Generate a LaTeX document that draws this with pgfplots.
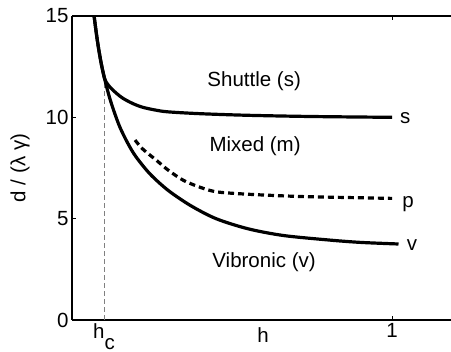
\documentclass[border=0pt]{standalone}
\usepackage{fontspec}
\setmainfont{Liberation Sans}
\usepackage{pgfplots}
\pgfplotsset{compat=1.18}
\begin{document}
\begin{tikzpicture}
\begin{axis}[
  name=ax,
  scale only axis,
  width=379pt, height=304pt,
  xmin=0, xmax=1.184, ymin=0, ymax=15,
  axis x line*=box, axis y line*=left,
  axis line style={-, line width=1.2pt},
  xtick={1}, xticklabels={1},
  extra x ticks={0.1}, extra x tick labels={h\raisebox{-0.55em}{c}},
  extra x tick style={major tick length=0pt},
  ytick={0,5,10,15},
  tick align=inside, major tick length=4pt,
  tick style={black, line width=0.8pt},
  /pgf/number format/assume math mode=true,
  font=\fontsize{20.5}{23}\selectfont,
  ticklabel style={font=\fontsize{20.5}{23}\selectfont},
  xlabel={h},
  xlabel style={at={(axis description cs:0.504,0)}, anchor=base, yshift=-23pt},
  ylabel={d / (λ γ)},
  ylabel style={at={(axis description cs:-0.137,0.5)}, anchor=center},
  clip=false,
]
% vertical dashed line at h_c
\addplot[gray, line width=1pt, dash pattern=on 5pt off 3pt] coordinates {(0.1,0) (0.1,12.0)};
% v curve
\addplot[black, line width=3.2pt, smooth] coordinates {
(0.069,15) (0.076,14.15) (0.083,13.4) (0.092,12.6) (0.102,11.9) (0.115,11.1) (0.13,10.35) (0.15,9.5) (0.175,8.7) (0.2,8.05) (0.244,7.2) (0.3,6.4) (0.37,5.65) (0.45,5.0) (0.55,4.5) (0.66,4.17) (0.8,3.95) (0.9,3.83) (1.02,3.75)};
% s curve
\addplot[black, line width=3.2pt, smooth] coordinates {
(0.069,15) (0.076,14.15) (0.083,13.4) (0.092,12.6) (0.102,11.9) (0.112,11.62) (0.123,11.42) (0.14,11.17) (0.16,10.93) (0.19,10.68) (0.22,10.5) (0.26,10.36) (0.3,10.27) (0.4,10.18) (0.55,10.1) (0.75,10.04) (1.0,10.0)};
% p curve
\addplot[black, line width=3.2pt, smooth, dash pattern=on 6pt off 4pt] coordinates {
(0.197,8.88) (0.22,8.45) (0.266,7.85) (0.3,7.4) (0.347,6.9) (0.4,6.55) (0.453,6.32) (0.556,6.2) (0.7,6.1) (0.806,6.06) (1.0,6.0)};
\node[anchor=base, inner sep=0pt] at (axis cs:0.569,11.54) {Shuttle (s)};
\node[anchor=base, inner sep=0pt] at (axis cs:0.572,8.29) {Mixed (m)};
\node[anchor=base, inner sep=0pt] at (axis cs:0.6,2.57) {Vibronic (v)};
\node[anchor=base, inner sep=0pt] at (axis cs:1.041,9.72) {s};
\node[anchor=base, inner sep=0pt] at (axis cs:1.05,5.53) {p};
\node[anchor=base, inner sep=0pt] at (axis cs:1.0625,3.45) {v};
\end{axis}
\pgfresetboundingbox
\path[use as bounding box] ([xshift=-72pt,yshift=-32pt]ax.south west) rectangle ([yshift=16pt]ax.north east);
\end{tikzpicture}
\end{document}
